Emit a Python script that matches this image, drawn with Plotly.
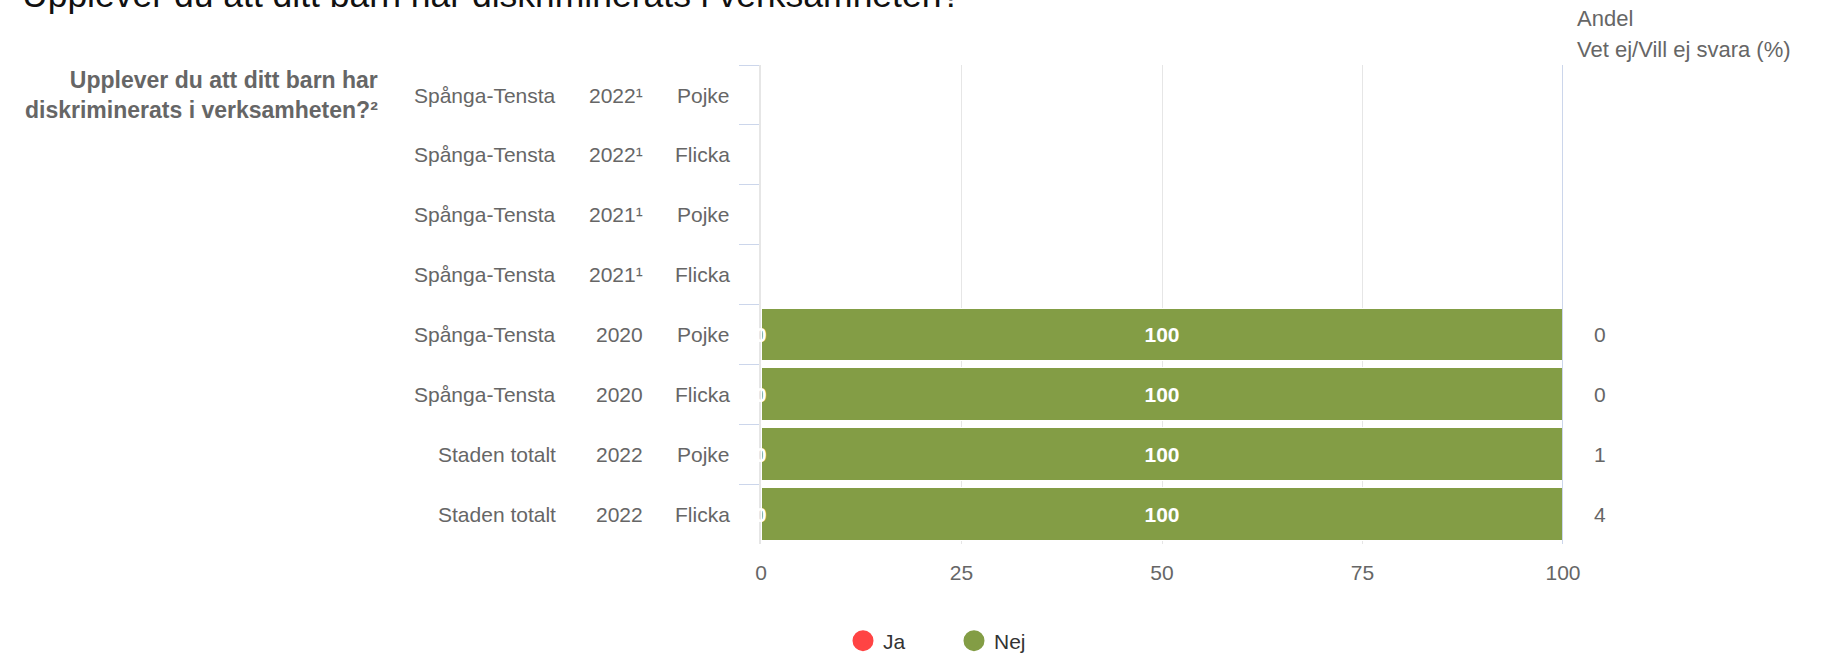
import plotly.graph_objects as go

# ---- data ----
areas = ["Spånga-Tensta", "Spånga-Tensta", "Spånga-Tensta", "Spånga-Tensta",
         "Spånga-Tensta", "Spånga-Tensta", "Staden totalt", "Staden totalt"]
years = ["2022¹", "2022¹", "2021¹", "2021¹", "2020", "2020", "2022", "2022"]
genders = ["Pojke", "Flicka", "Pojke", "Flicka", "Pojke", "Flicka", "Pojke", "Flicka"]
ja = [None, None, None, None, 0, 0, 0, 0]
nej = [None, None, None, None, 100, 100, 100, 100]
vet_ej = [None, None, None, None, 0, 0, 1, 4]
x_ticks = [0, 25, 50, 75, 100]

title = "Upplever du att ditt barn har diskriminerats i verksamheten?"
question = "Upplever du att ditt barn har<br>diskriminerats i verksamheten?²"
right_header = ["Andel", "Vet ej/Vill ej svara (%)"]

RED = "#ff4444"
GREEN = "#839d45"
FONT = "Liberation Sans, Arial, Helvetica, sans-serif"
GRAY = "#666666"

cats = [f"{a} {y} {g}" for a, y, g in zip(areas, years, genders)]

fig = go.Figure()
fig.add_trace(go.Bar(
    y=cats, x=ja, orientation="h", name="Ja", marker=dict(color=RED, line=dict(color="white", width=1)),
    showlegend=False, hoverinfo="x+name"))
fig.add_trace(go.Bar(
    y=cats, x=nej, orientation="h", name="Nej", marker=dict(color=GREEN, line=dict(color="white", width=1)),
    showlegend=False, text=[None if v is None else str(v) for v in nej], texttemplate="<b>%{text}</b>",
    textposition="inside", insidetextanchor="middle",
    textfont=dict(color="white", size=21, family=FONT), hoverinfo="x+name"))

# legend entries with circle symbols
for nm, col in [("Ja", RED), ("Nej", GREEN)]:
    fig.add_trace(go.Scatter(x=[None], y=[None], mode="markers", name=nm,
                             marker=dict(color=col, size=22, symbol="circle", line=dict(color=col, width=5)),
                             showlegend=True))

annotations = []
# category label columns
for c, a, y, g in zip(cats, areas, years, genders):
    annotations.append(dict(x=0, xref="paper", y=c, yref="y", text=a, showarrow=False,
                            xanchor="right", yanchor="middle", xshift=-203,
                            font=dict(size=21, color=GRAY, family=FONT)))
    annotations.append(dict(x=0, xref="paper", y=c, yref="y", text=y, showarrow=False,
                            xanchor="right", yanchor="middle", xshift=-116,
                            font=dict(size=21, color=GRAY, family=FONT)))
    annotations.append(dict(x=0, xref="paper", y=c, yref="y", text=g, showarrow=False,
                            xanchor="right", yanchor="middle", xshift=-29,
                            font=dict(size=21, color=GRAY, family=FONT)))

# Ja labels (value 0) in white
for c, v in zip(cats, ja):
    if v is not None:
        annotations.append(dict(x=v, xref="x", y=c, yref="y", text=f"<b>{v}</b>", showarrow=False,
                                xanchor="center", yanchor="middle",
                                font=dict(size=21, color="white", family=FONT)))

# Right column values
for c, v in zip(cats, vet_ej):
    if v is not None:
        annotations.append(dict(x=1, xref="paper", y=c, yref="y", text=str(v), showarrow=False,
                                xanchor="left", yanchor="middle", xshift=29,
                                font=dict(size=21, color=GRAY, family=FONT)))

# right header
annotations.append(dict(x=1, xref="paper", y=1, yref="paper", text=right_header[0], showarrow=False,
                        xanchor="left", yanchor="middle", xshift=12, yshift=47,
                        font=dict(size=22, color=GRAY, family=FONT)))
annotations.append(dict(x=1, xref="paper", y=1, yref="paper", text=right_header[1], showarrow=False,
                        xanchor="left", yanchor="middle", xshift=12, yshift=16,
                        font=dict(size=22, color=GRAY, family=FONT)))

# question label (bold)
annotations.append(dict(x=0, xref="paper", y=cats[0], yref="y", text=f"<b>{question}</b>", showarrow=False,
                        xanchor="right", yanchor="middle", align="right", xshift=-381, yshift=0,
                        font=dict(size=23, color=GRAY, family=FONT)))

# main title (cut off at top)
annotations.append(dict(x=0, xref="paper", y=1, yref="paper", text=title, showarrow=False,
                        xanchor="left", yanchor="bottom", xshift=-741, yshift=48,
                        font=dict(size=35.5, color="#111111", family=FONT)))

fig.update_layout(
    width=1825, height=656, autosize=False,
    margin=dict(l=761, r=262, t=65, b=112, pad=0),
    paper_bgcolor="white", plot_bgcolor="white",
    barmode="stack", bargap=0.12,
    font=dict(family=FONT, size=21, color=GRAY),
    annotations=annotations,
    legend=dict(orientation="h", xref="container", x=843 / 1825, xanchor="left",
                yref="container", y=15 / 656, yanchor="middle", traceorder="normal",
                font=dict(size=21, color="#333333", family=FONT), itemsizing="trace",
                entrywidth=66, entrywidthmode="pixels"),
    shapes=[dict(type="line", xref="x", x0=x_ticks[-1], x1=x_ticks[-1], yref="paper", y0=0, y1=1,
                 line=dict(color="#ccd6eb", width=2), layer="above")],
)
fig.update_xaxes(range=[x_ticks[0], x_ticks[-1]], tickvals=x_ticks, showgrid=True, gridcolor="#e6e6e6",
                 gridwidth=1, zeroline=False, showline=False, ticks="", ticklabelstandoff=14,
                 tickfont=dict(size=21, color=GRAY, family=FONT), fixedrange=True)
fig.update_yaxes(type="category", categoryorder="array", categoryarray=cats, autorange="reversed",
                 showticklabels=False, ticks="outside", tickson="boundaries", ticklen=20,
                 tickcolor="#ccd6eb", tickwidth=1, showgrid=False, showline=True,
                 linecolor="#e6e6e6", linewidth=2, fixedrange=True)

fig.write_html("out.html", config={"displayModeBar": False},
               post_script="document.body.style.margin='0';")
